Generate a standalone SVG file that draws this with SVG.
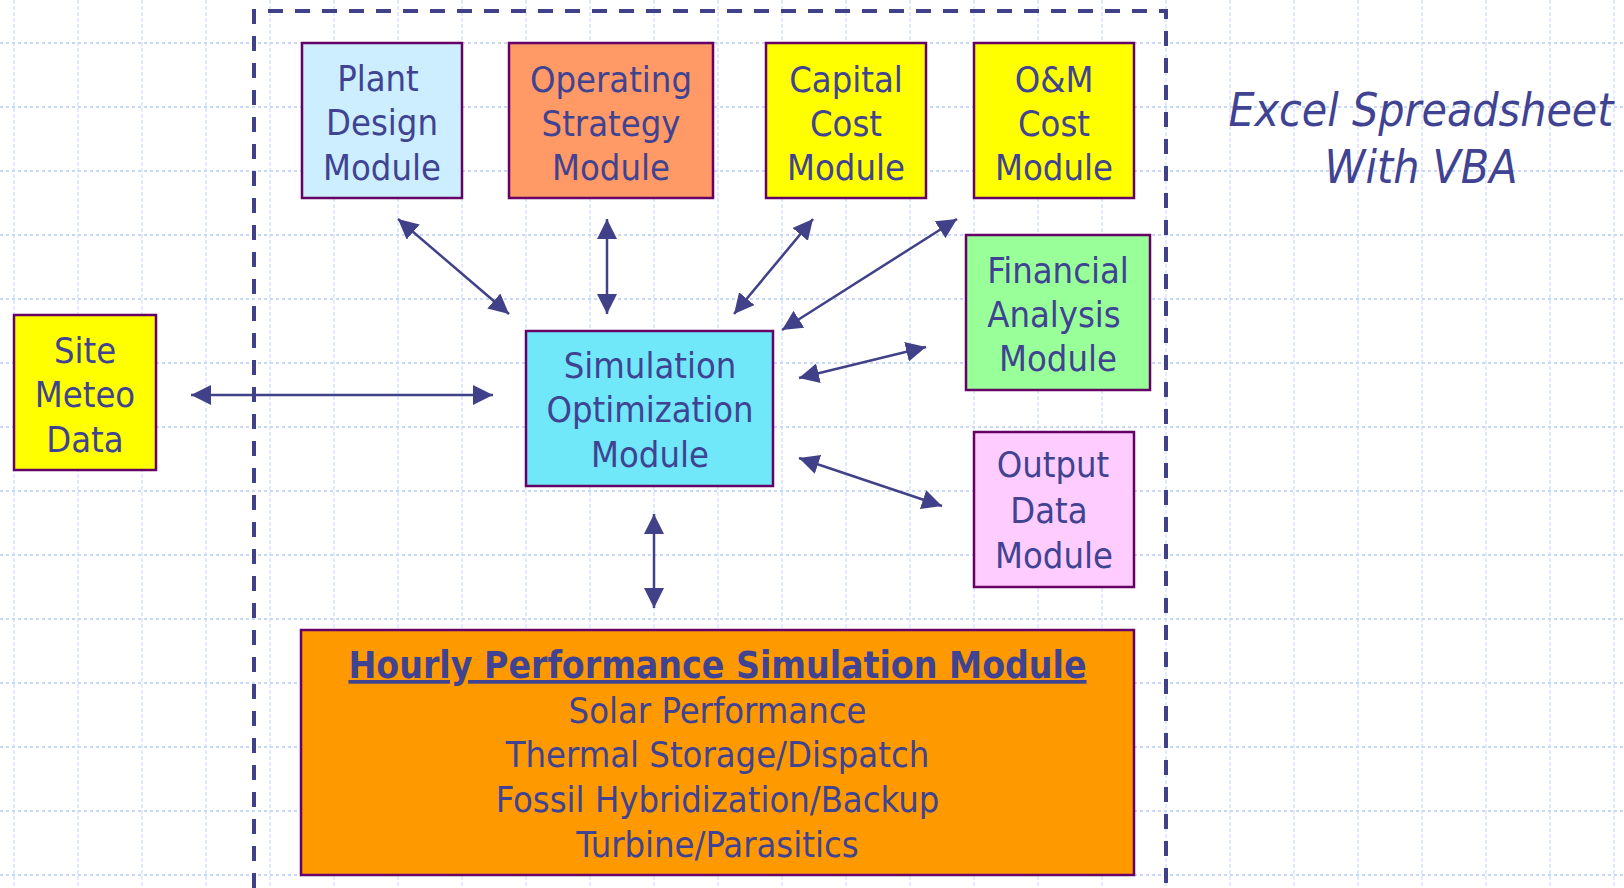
<svg xmlns="http://www.w3.org/2000/svg" width="1624" height="888" viewBox="0 0 1624 888">
<defs>
<style>
.gh{stroke:#cad7f8;stroke-width:2;stroke-dasharray:3 3;fill:none}
.gv{stroke:#dae3fb;stroke-width:1.5;stroke-dasharray:4 2;fill:none}
.box{stroke:#660066;stroke-width:2.5}
.t{font-family:"DejaVu Sans Condensed","DejaVu Sans",sans-serif;font-stretch:condensed;font-size:36px;fill:#3f4391;text-anchor:middle}
.it{font-style:italic;font-size:46px}
.b{font-weight:bold;text-decoration:underline;font-size:37px}
.conn line{stroke:#414189;stroke-width:2.5;marker-start:url(#ah);marker-end:url(#ah)}
</style>
<marker id="ah" markerUnits="userSpaceOnUse" markerWidth="20" markerHeight="20" refX="20" refY="10" orient="auto-start-reverse" viewBox="0 0 20 20">
<path d="M0,0 L20,10 L0,20 Z" fill="#414189"/>
</marker>
</defs>
<rect width="1624" height="888" fill="#ffffff"/>
<g id="grid">
<path class="gv" d="M14,0V888M78,0V888M142,0V888M206,0V888M270,0V888M334,0V888M398,0V888M462,0V888M526,0V888M590,0V888M654,0V888M718,0V888M782,0V888M846,0V888M910,0V888M974,0V888M1038,0V888M1102,0V888M1166,0V888M1230,0V888M1294,0V888M1358,0V888M1422,0V888M1486,0V888M1550,0V888M1614,0V888"/>
<path class="gh" d="M0,43H1624M0,107H1624M0,171H1624M0,235H1624M0,299H1624M0,363H1624M0,427H1624M0,491H1624M0,555H1624M0,619H1624M0,683H1624M0,747H1624M0,811H1624M0,875H1624"/>
</g>
<path id="boundary" d="M254,888V11H1166V888" fill="none" stroke="#414189" stroke-width="4" stroke-dasharray="15 12"/>
<g id="excel-label">
<text class="t it" x="1421" y="126">Excel Spreadsheet</text>
<text class="t it" x="1421" y="183">With VBA</text>
</g>
<g id="plant-design">
<rect class="box" x="302" y="43" width="160" height="155" fill="#cceeff"/>
<text class="t" x="378" y="91">Plant</text>
<text class="t" x="382" y="135">Design</text>
<text class="t" x="382" y="180">Module</text>
</g>
<g id="operating-strategy">
<rect class="box" x="509" y="43" width="204" height="155" fill="#ff9966"/>
<text class="t" x="611" y="92">Operating</text>
<text class="t" x="611" y="136">Strategy</text>
<text class="t" x="611" y="180">Module</text>
</g>
<g id="capital-cost">
<rect class="box" x="766" y="43" width="160" height="155" fill="#ffff00"/>
<text class="t" x="846" y="92">Capital</text>
<text class="t" x="846" y="136">Cost</text>
<text class="t" x="846" y="180">Module</text>
</g>
<g id="om-cost">
<rect class="box" x="974" y="43" width="160" height="155" fill="#ffff00"/>
<text class="t" x="1054" y="92">O&amp;M</text>
<text class="t" x="1054" y="136">Cost</text>
<text class="t" x="1054" y="180">Module</text>
</g>
<g id="financial-analysis">
<rect class="box" x="966" y="235" width="184" height="155" fill="#99ff99"/>
<text class="t" x="1058" y="283">Financial</text>
<text class="t" x="1054" y="327">Analysis</text>
<text class="t" x="1058" y="371">Module</text>
</g>
<g id="output-data">
<rect class="box" x="974" y="432" width="160" height="155" fill="#ffccff"/>
<text class="t" x="1053" y="477">Output</text>
<text class="t" x="1049" y="523">Data</text>
<text class="t" x="1054" y="568">Module</text>
</g>
<g id="site-meteo">
<rect class="box" x="14" y="315" width="142" height="155" fill="#ffff00"/>
<text class="t" x="85" y="363">Site</text>
<text class="t" x="85" y="407">Meteo</text>
<text class="t" x="85" y="452">Data</text>
</g>
<g id="simulation-optimization">
<rect class="box" x="526" y="331" width="247" height="155" fill="#70e8fa"/>
<text class="t" x="650" y="378">Simulation</text>
<text class="t" x="650" y="422">Optimization</text>
<text class="t" x="650" y="467">Module</text>
</g>
<g id="hourly-performance">
<rect class="box" x="301" y="630" width="833" height="245" fill="#ff9900"/>
<text class="t b" x="717.5" y="678">Hourly Performance Simulation Module</text>
<text class="t" x="717.5" y="723">Solar Performance</text>
<text class="t" x="717.5" y="767">Thermal Storage/Dispatch</text>
<text class="t" x="717.5" y="812">Fossil Hybridization/Backup</text>
<text class="t" x="717.5" y="857">Turbine/Parasitics</text>
</g>
<g id="connectors" class="conn">
<line x1="398" y1="219" x2="509" y2="314"/>
<line x1="607" y1="219" x2="607" y2="314"/>
<line x1="813" y1="219" x2="734" y2="314"/>
<line x1="957" y1="219" x2="782" y2="330"/>
<line x1="926" y1="347" x2="799" y2="378"/>
<line x1="799" y1="458" x2="942" y2="506"/>
<line x1="191" y1="395" x2="493" y2="395"/>
<line x1="654" y1="514" x2="654" y2="608"/>
</g>
</svg>
